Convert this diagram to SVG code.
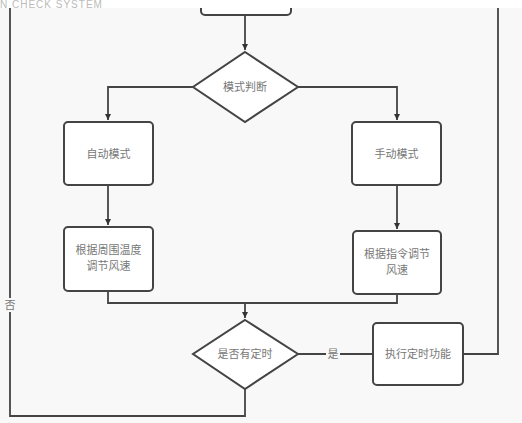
<svg xmlns="http://www.w3.org/2000/svg" width="522" height="423" viewBox="0 0 522 423">
<defs>
<marker id="arr" viewBox="0 0 10 10" refX="10" refY="5" markerWidth="6" markerHeight="7" orient="auto" markerUnits="userSpaceOnUse">
<path d="M0,0 L10,5 L0,10 z" fill="#333"/>
</marker>
<style>
.box{fill:#fff;stroke:#444;stroke-width:2}
.dia{fill:#fff;stroke:#444;stroke-width:2}
.ln{fill:none;stroke:#444;stroke-width:1.8}
.t{font-family:"Noto Sans CJK SC","Liberation Sans",sans-serif;font-size:11px;fill:#777;text-anchor:middle}
</style>
</defs>
<rect x="0" y="0" width="522" height="423" fill="#f8f8f8"/>
<g id="connectors">
<path class="ln" d="M245,15 V50" marker-end="url(#arr)"/>
<path class="ln" d="M193,87 H108 V120" marker-end="url(#arr)"/>
<path class="ln" d="M298,87 H397 V120" marker-end="url(#arr)"/>
<path class="ln" d="M108,185 V225" marker-end="url(#arr)"/>
<path class="ln" d="M397,185 V229" marker-end="url(#arr)"/>
<path class="ln" d="M108,291 V303 H397 V294"/>
<path class="ln" d="M245,303 V318" marker-end="url(#arr)"/>
<path class="ln" d="M298,354 H373"/>
<path class="ln" d="M463,354 H498 V0"/>
<path class="ln" d="M245,389 V416 H10 V0"/>
<rect x="326" y="347" width="14" height="14" fill="#f8f8f8"/>
<text class="t" x="333" y="358">是</text>
<rect x="3" y="298" width="14" height="14" fill="#f8f8f8"/>
<text class="t" x="10" y="309">否</text>
</g>
<g id="start"><rect class="box" x="201" y="-40" width="90" height="55" rx="4"/></g>
<g id="mode"><polygon class="dia" points="245,52 298,87 245,122 193,87"/><text class="t" x="245" y="91">模式判断</text></g>
<g id="auto"><rect class="box" x="64" y="122" width="89" height="63" rx="4"/><text class="t" x="108.5" y="158">自动模式</text></g>
<g id="manual"><rect class="box" x="352" y="122" width="89" height="63" rx="4"/><text class="t" x="396.5" y="158">手动模式</text></g>
<g id="autoadj"><rect class="box" x="64" y="227" width="89" height="64" rx="4"/><text class="t" x="108.5" y="254">根据周围温度</text><text class="t" x="108.5" y="270">调节风速</text></g>
<g id="manadj"><rect class="box" x="353" y="231" width="88" height="63" rx="4"/><text class="t" x="397" y="258">根据指令调节</text><text class="t" x="397" y="274">风速</text></g>
<g id="timer"><polygon class="dia" points="245,320 298,354 245,389 193,354"/><text class="t" x="245" y="358">是否有定时</text></g>
<g id="exec"><rect class="box" x="373" y="323" width="90" height="62" rx="4"/><text class="t" x="418" y="358">执行定时功能</text></g>
<rect x="0" y="0" width="522" height="8" fill="#fff"/>
<text x="0" y="8" font-family="Liberation Sans, sans-serif" font-size="10" fill="#bbb" letter-spacing="1">N CHECK SYSTEM</text>
</svg>
